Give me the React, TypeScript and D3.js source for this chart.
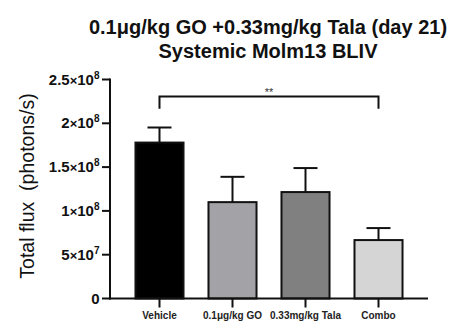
import React from "react";
import * as d3 from "d3";

const categories = ["Vehicle", "0.1\u03bcg/kg GO", "0.33mg/kg Tala", "Combo"];
const means = [1.78e8, 1.1e8, 1.215e8, 0.667e8];
const sems = [0.172e8, 0.289e8, 0.274e8, 0.137e8];
const barColors = ["#000000", "#a3a3a7", "#808080", "#d5d5d5"];
const yTicks = [0, 5e7, 1e8, 1.5e8, 2e8, 2.5e8];
const yTickMant = ["0", "5", "1", "1.5", "2", "2.5"];
const yTickExp = ["", "7", "8", "8", "8", "8"];
const sigLabel = "**";
const sigFrom = 0;
const sigTo = 3;
const sigTop = 2.305e8;
const sigBottom = 2.165e8;

const W = 457;
const H = 328;
const FONT = "'Liberation Sans', Arial, sans-serif";

export default function App() {
  const y = d3.scaleLinear().domain([0, 2.5e8]).range([298.5, 79.5]);
  const x = d3
    .scaleBand<string>()
    .domain(categories)
    .range([110, 428])
    .paddingInner(0.342)
    .paddingOuter(0.349);
  const bw = x.bandwidth();
  const cx = (c: string) => (x(c) as number) + bw / 2;
  const axisX = 110;
  const axisY = y(0);

  return (
    <svg
      width={W}
      height={H}
      style={{ position: "absolute", left: 0, top: 0, background: "#fff" }}
      fontFamily={FONT}
    >
      <rect x={0} y={0} width={W} height={H} fill="#fff" />
      {/* Title */}
      <text x={268} y={34} textAnchor="middle" fontSize={20} fontWeight="bold" fill="#111">
        0.1{"\u03bc"}g/kg GO +0.33mg/kg Tala (day 21)
      </text>
      <text x={268} y={58} textAnchor="middle" fontSize={20} fontWeight="bold" fill="#111">
        Systemic Molm13 BLIV
      </text>

      {/* Y label */}
      <text
        transform={`translate(34,186) rotate(-90)`}
        textAnchor="middle"
        fontSize={19.5}
        fill="#111"
      >
        Total flux{"\u00a0\u00a0"}(photons/s)
      </text>

      {/* Bars */}
      {categories.map((c, i) => (
        <g key={c}>
          <line
            x1={cx(c)}
            x2={cx(c)}
            y1={y(means[i])}
            y2={y(means[i] + sems[i])}
            stroke="#111"
            strokeWidth={2}
          />
          <line
            x1={cx(c) - 12}
            x2={cx(c) + 12}
            y1={y(means[i] + sems[i])}
            y2={y(means[i] + sems[i])}
            stroke="#111"
            strokeWidth={2}
          />
          <rect
            x={x(c)}
            y={y(means[i])}
            width={bw}
            height={axisY - y(means[i])}
            fill={barColors[i]}
            stroke="#111"
            strokeWidth={2}
          />
        </g>
      ))}

      {/* Y axis */}
      <line x1={axisX} x2={axisX} y1={y(2.5e8) - 1} y2={axisY + 1} stroke="#111" strokeWidth={2} />
      {yTicks.map((t, i) => (
        <g key={t}>
          <line x1={axisX - 8} x2={axisX} y1={y(t)} y2={y(t)} stroke="#111" strokeWidth={2} />
          <text
            x={axisX - 10.5}
            y={y(t) + 5}
            textAnchor="end"
            fontSize={15}
            fontWeight="bold"
            fill="#111"
          >
            {yTickExp[i] ? (
              <>
                {yTickMant[i]}
                <tspan fontSize={13}>{"\u00d7"}</tspan>10
                <tspan fontSize={10} dy={-6}>{yTickExp[i]}</tspan>
              </>
            ) : (
              yTickMant[i]
            )}
          </text>
        </g>
      ))}

      {/* X axis */}
      <line x1={axisX - 1} x2={428} y1={axisY} y2={axisY} stroke="#111" strokeWidth={2} />
      {categories.map((c) => (
        <g key={c}>
          <line x1={cx(c)} x2={cx(c)} y1={axisY} y2={axisY + 9} stroke="#111" strokeWidth={2} />
          <text x={cx(c)} y={319} textAnchor="middle" fontSize={10} fontWeight="bold" fill="#222">
            {c}
          </text>
        </g>
      ))}

      {/* Significance bracket */}
      <path
        d={`M${cx(categories[sigFrom])},${y(sigBottom)}V${y(sigTop)}H${cx(categories[sigTo])}V${y(sigBottom)}`}
        fill="none"
        stroke="#111"
        strokeWidth={2}
      />
      <text
        x={(cx(categories[sigFrom]) + cx(categories[sigTo])) / 2}
        y={y(sigTop) - 1}
        textAnchor="middle"
        fontSize={11}
        fill="#333"
      >
        {sigLabel}
      </text>
    </svg>
  );
}
